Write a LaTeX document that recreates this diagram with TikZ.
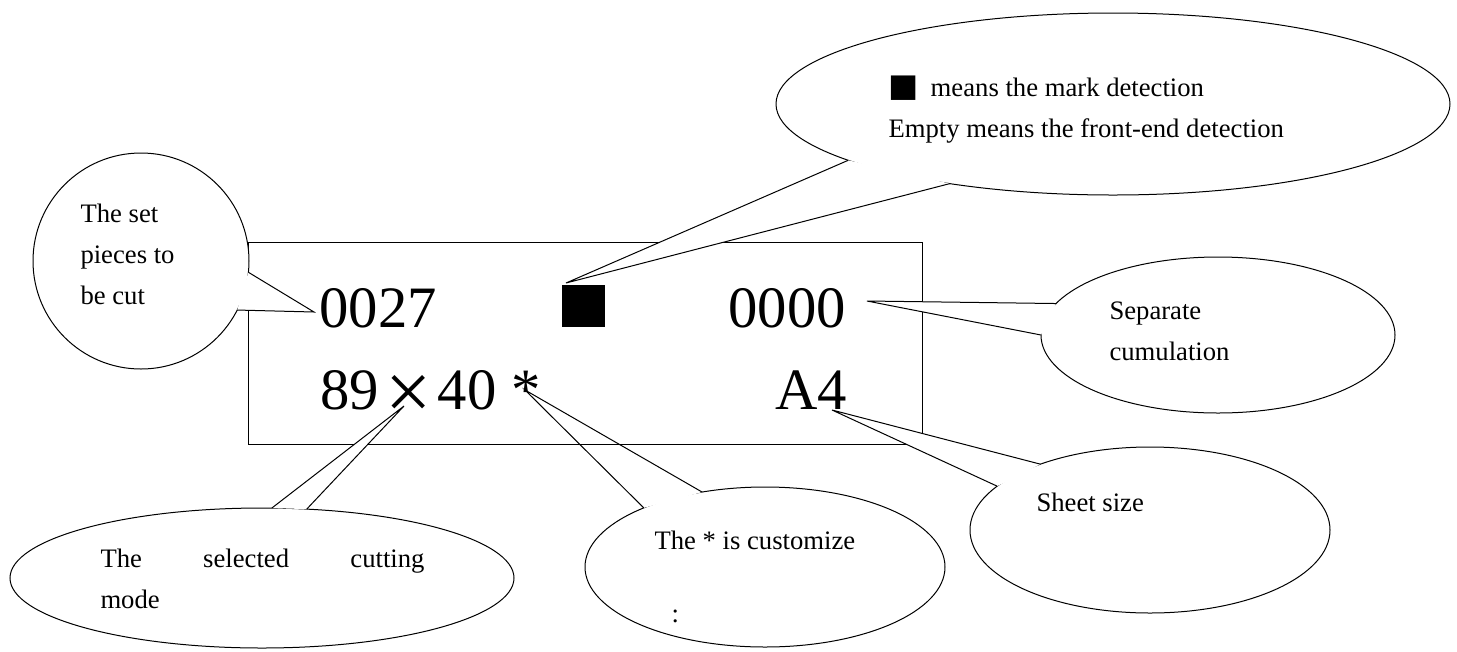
\documentclass[tikz,border=0pt]{standalone}
\usepackage{fontspec}
\setmainfont{Liberation Serif}
\newfontfamily\symfont{DejaVu Sans}
\usepackage{graphicx}
\usetikzlibrary{shapes.geometric}

\tikzset{every picture/.style={line width=0.75pt}}

\begin{document}
\begin{tikzpicture}[x=0.75pt,y=0.75pt,yscale=-1,xscale=1,
  bubble/.style={draw, fill=white, ellipse, inner sep=0pt, outer sep=0pt},
  bigtxt/.style={anchor=base west, inner sep=0pt, font=\fontsize{44}{44}\selectfont},
  notetxt/.style={anchor=base west, inner sep=0pt, align=left, font=\fontsize{20}{30.75}\selectfont}]
\useasboundingbox (0,0) rectangle (1457,651);

%Tip points of the callouts
\coordinate (tipMark) at (566,283);
\coordinate (tipSep) at (867,301);
\coordinate (tipSheet) at (832,410);
\coordinate (tipStar) at (525,390);
\coordinate (tipTimes) at (404,406);
\coordinate (tipSet) at (314,312);

%Shape: Ellipse [customize]
\node [bubble, minimum width=270pt, minimum height=120pt] (custEll) at (765,567) {};
\fill [white] (custEll.154) -- (tipStar) -- (custEll.130) -- cycle;
\draw (custEll.154) -- (tipStar) -- (custEll.130);

%Shape: Rectangle [display]
\draw (248,242) rectangle (922,444);

%Shape: Circle [set pieces]
\node [draw, fill=white, circle, minimum size=162pt, inner sep=0pt, outer sep=0pt] (setCirc) at (141,261) {};
\fill [white] (setCirc.-6) -- (tipSet) -- (setCirc.-27) -- cycle;
\draw (setCirc.-6) -- (tipSet) -- (setCirc.-27);

%Shape: Ellipse [detection]
\node [bubble, minimum width=505.5pt, minimum height=136.5pt] (detEll) at (1113,104) {};
\fill [white] (detEll.192.7) -- (tipMark) -- (detEll.206.6) -- cycle;
\draw (detEll.192.7) -- (tipMark) -- (detEll.206.6);

%Shape: Ellipse [cumulation]
\node [bubble, minimum width=265.5pt, minimum height=117pt] (sepEll) at (1218,335) {};
\fill [white] (sepEll.169) -- (tipSep) -- (sepEll.180) -- cycle;
\draw (sepEll.169) -- (tipSep) -- (sepEll.180);

%Shape: Ellipse [sheet size]
\node [bubble, minimum width=270pt, minimum height=124.5pt] (sheetEll) at (1150,530) {};
\fill [white] (sheetEll.149) -- (tipSheet) -- (sheetEll.164) -- cycle;
\draw (sheetEll.149) -- (tipSheet) -- (sheetEll.164);

%Shape: Ellipse [cutting mode]
\node [bubble, minimum width=378pt, minimum height=105pt] (modeEll) at (262,578) {};
\fill [white] (modeEll.82) -- (tipTimes) -- (modeEll.57) -- cycle;
\draw (modeEll.82) -- (tipTimes) -- (modeEll.57);

%Shape: Square [mark]
\node [fill=black, inner sep=0pt, minimum width=32.25pt, minimum height=31.5pt] (markbox) at (583.5,306) {};

% Text Node
\node [bigtxt] (count) at (319,327) {0027};
% Text Node
\node [bigtxt] (total) at (728,327) {0000};
% Text Node
\node [bigtxt] (mode) at (320,409) {89\makebox[1em]{\raisebox{-8pt}{\scalebox{1.4}{×}}}40 *};
% Text Node
\node [bigtxt] (sheet) at (775,409) {A4};

% Text Node (multi-line nodes sit on their last baseline)
\node [notetxt] (setTxt) at (80,304) {The set\\pieces to\\be cut};
% Text Node
\node [notetxt] (detTxt) at (888,137) {{\symfont\fontsize{24}{24}\selectfont ■}\hspace{0.45em}means the mark detection\\Empty means the front-end detection};
% Text Node
\node [notetxt] (sepTxt) at (1109,360) {Separate\\cumulation};
% Text Node
\node [notetxt] (sheetTxt) at (1036,511) {Sheet size};
% Text Node
\node [notetxt] (custTxt) at (654,549) {The * is customize};
% Text Node
\node [notetxt] (colon) at (671,622) {:};
% Text Node
\node [notetxt] (modeTxt) at (100,608) {\makebox[243pt][s]{The selected cutting}\\mode};

\end{tikzpicture}
\end{document}
